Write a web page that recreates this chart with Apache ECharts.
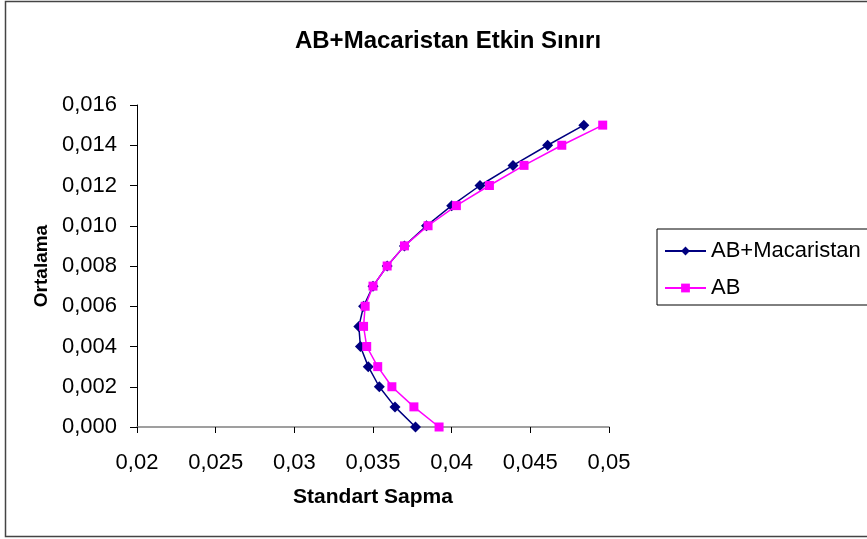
<!DOCTYPE html>
<html>
<head>
<meta charset="utf-8">
<script src="https://cdn.jsdelivr.net/npm/echarts@6/dist/echarts.min.js"></script>
<style>html,body{margin:0;padding:0;background:#fff;}#c{width:867px;height:539px;}</style>
</head>
<body>
<div id="c"></div>
<script>
const titleText = 'AB+Macaristan Etkin Sınırı';
const xName = 'Standart Sapma';
const yName = 'Ortalama';
const seriesNames = ['AB+Macaristan', 'AB'];
// Ortalama (mean) values
const means = [0.015, 0.014, 0.013, 0.012, 0.011, 0.010, 0.009, 0.008, 0.007, 0.006, 0.005, 0.004, 0.003, 0.002, 0.001, 0.000];
// Standart sapma values
const sdABM = [0.0484, 0.0461, 0.0439, 0.0418, 0.0400, 0.0384, 0.0370, 0.0359, 0.0350, 0.0344, 0.0341, 0.0342, 0.0347, 0.0354, 0.0364, 0.0377];
const sdAB  = [0.0496, 0.0470, 0.0446, 0.0424, 0.0403, 0.0385, 0.0370, 0.0359, 0.0350, 0.0345, 0.0344, 0.0346, 0.0353, 0.0362, 0.0376, 0.0392];

const chart = echarts.init(document.getElementById('c'));
const fmtY = v => v.toFixed(3).replace('.', ',');
const fmtX = v => String(+v.toFixed(3)).replace('.', ',');
const FF = 'Liberation Sans, Arial';
chart.setOption({
  animation: false,
  backgroundColor: '#fff',
  graphic: [{
    type: 'rect', shape: {x: 5.5, y: 1.5, width: 870, height: 535},
    style: {fill: 'none', stroke: '#444', lineWidth: 1.5}, silent: true
  }],
  title: {
    text: titleText, left: 443, top: 24, textAlign: 'center',
    textStyle: {fontFamily: FF, fontWeight: 'bold', fontSize: 24, color: '#000'}
  },
  legend: {
    orient: 'vertical', left: 657, top: 229,
    padding: [11, 10, 6, 7], itemGap: 15,
    borderColor: '#000', borderWidth: 1, itemWidth: 41, itemHeight: 11,
    textStyle: {fontFamily: FF, fontSize: 22, color: '#000'},
    data: seriesNames
  },
  grid: {left: 137, right: 258, top: 105, bottom: 112},
  xAxis: {
    type: 'value', min: 0.02, max: 0.05, interval: 0.005,
    name: xName, nameLocation: 'middle', nameGap: 60,
    nameTextStyle: {fontFamily: FF, fontWeight: 'bold', fontSize: 21, color: '#000'},
    axisLine: {onZero: false, lineStyle: {color: '#808080', width: 1.5}},
    axisTick: {show: true, length: 6, lineStyle: {color: '#000'}},
    axisLabel: {formatter: fmtX, margin: 25, fontFamily: FF, fontSize: 22, color: '#000'},
    splitLine: {show: false}
  },
  yAxis: {
    type: 'value', min: 0, max: 0.016, interval: 0.002,
    name: yName, nameLocation: 'middle', nameGap: 86,
    nameTextStyle: {fontFamily: FF, fontWeight: 'bold', fontSize: 19, color: '#000'},
    axisLine: {show: true, lineStyle: {color: '#000', width: 1}},
    axisTick: {show: true, length: 7, lineStyle: {color: '#000'}},
    axisLabel: {formatter: fmtY, margin: 20, fontFamily: FF, fontSize: 22, color: '#000'},
    splitLine: {show: false}
  },
  series: [
    {
      name: seriesNames[0], type: 'line', data: sdABM.map((x, i) => [x, means[i]]),
      symbol: 'diamond', symbolSize: 11, color: '#000080',
      lineStyle: {width: 1.5, color: '#000080'}, itemStyle: {color: '#000080'}, z: 3
    },
    {
      name: seriesNames[1], type: 'line', data: sdAB.map((x, i) => [x, means[i]]),
      symbol: 'rect', symbolSize: 9, color: '#ff00ff',
      lineStyle: {width: 1.5, color: '#ff00ff'}, itemStyle: {color: '#ff00ff'}, z: 4
    }
  ]
});
</script>
</body>
</html>
